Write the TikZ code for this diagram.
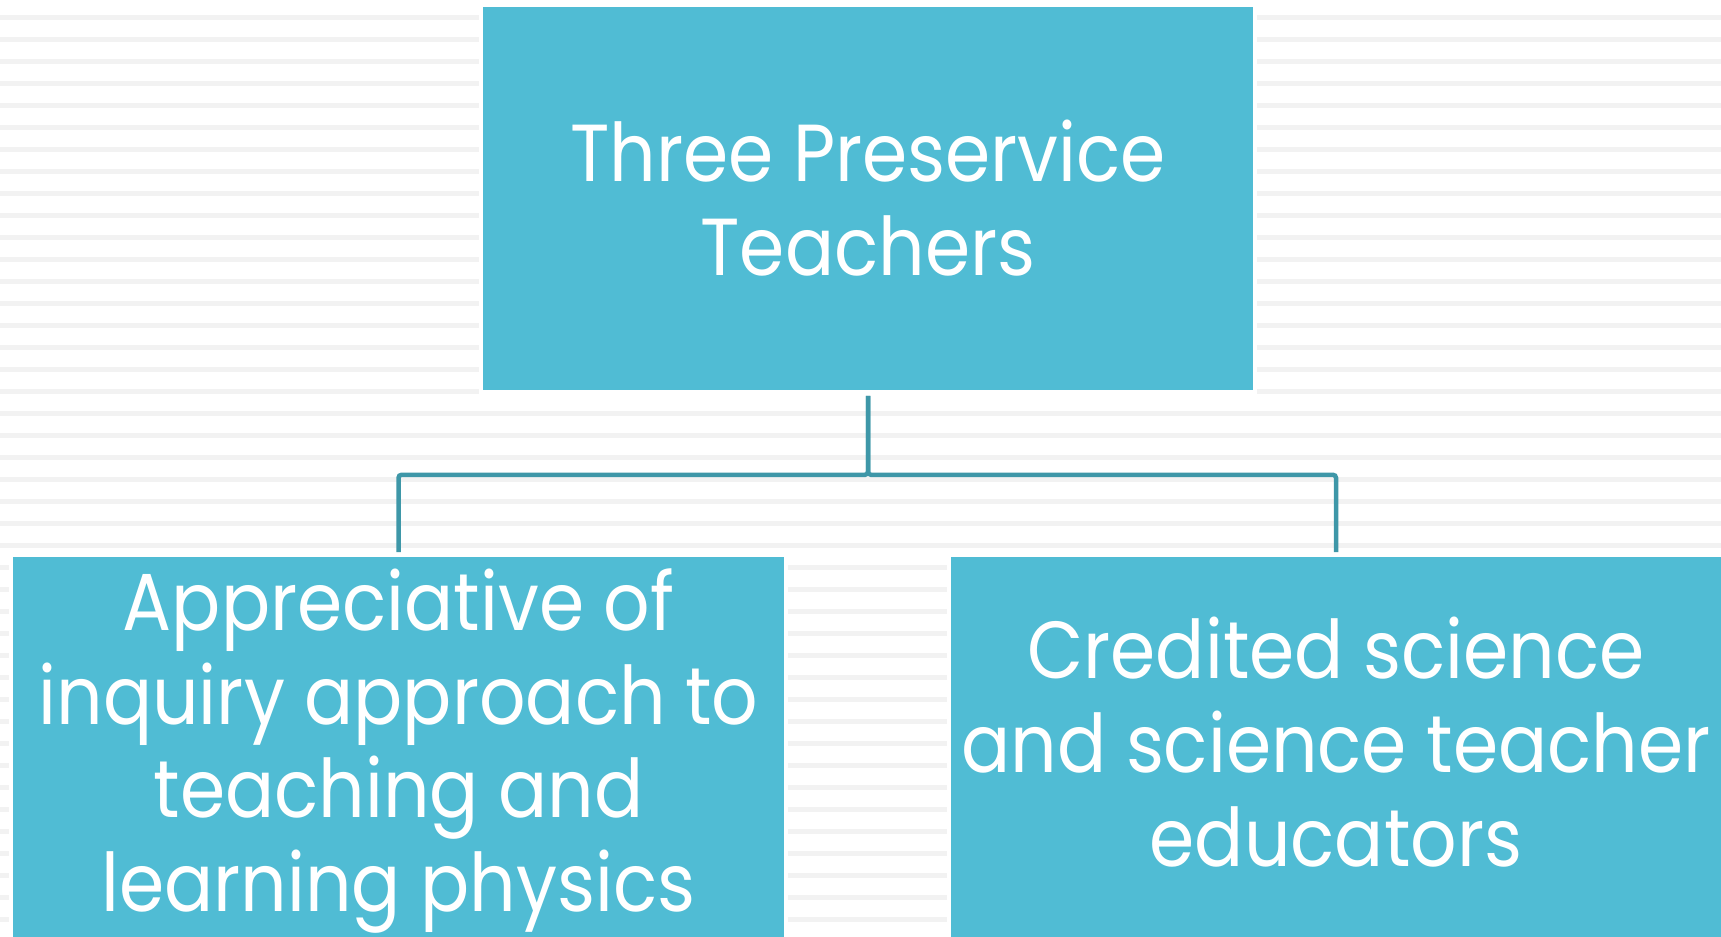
\documentclass[tikz,border=0pt]{standalone}
\usepackage{fontspec}
\setmainfont{Poppins}[FakeStretch=0.90]
\usepackage{xcolor}
\definecolor{boxblue}{RGB}{80,188,212}
\definecolor{linkteal}{RGB}{62,151,168}
\definecolor{stripe}{RGB}{242,242,242}

\tikzset{
  box/.style={fill=boxblue, preaction={draw=white, line width=0.08cm}, text=white,
    minimum width=7.70cm, align=center, inner sep=0pt,
    font=\fontsize{23}{26.7}\selectfont},
  link/.style={draw=linkteal, line width=0.045cm, rounded corners=0.03cm}
}

\begin{document}
\begin{tikzpicture}[x=0.01cm, y=-0.01cm]
\useasboundingbox (0,0) rectangle (1721,937);
% background stripes
\foreach \y in {15,37,...,937}
  \fill[stripe] (0,\y) rectangle (1721,\y+5);
\node[box, minimum height=3.83cm] (teachers) at (868,198.5) {Three Preservice\\Teachers};
\node[box, minimum height=3.88cm] (inquiry) at (398.5,751) {Appreciative of\\inquiry approach to\\teaching and\\learning physics};
\node[box, minimum height=3.90cm, text depth=0.2cm] (credited) at (1336,752) {Credited science\\and science teacher\\educators};
\draw[link, shorten <=0.05cm, shorten >=0.04cm] (teachers.south) -- ++(0,84) -| (inquiry.north);
\draw[link, shorten <=0.05cm, shorten >=0.04cm] (teachers.south) -- ++(0,84) -| (credited.north);
\end{tikzpicture}
\end{document}
